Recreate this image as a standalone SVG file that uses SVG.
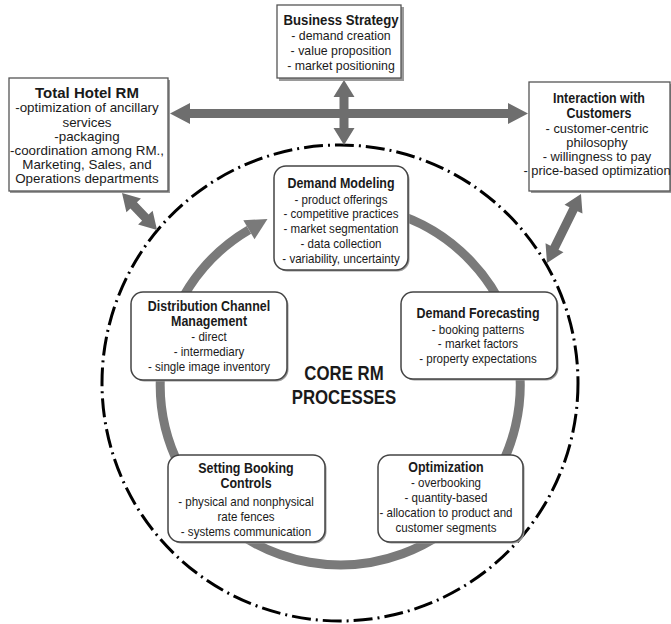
<svg xmlns="http://www.w3.org/2000/svg" width="671" height="624" viewBox="0 0 671 624">
<style>
  text { font-family: "Liberation Sans", Arial, sans-serif; fill: #1a1a1a; text-anchor: middle; transform-box: fill-box; transform-origin: center; }
  .t { font-weight: bold; font-size: 15px; transform: scaleX(0.83); }
  .i { font-size: 13px; transform: scaleX(0.89); }
  .ib { font-size: 13px; transform: scaleX(0.95); }
  .ic { font-size: 13px; transform: scaleX(0.99); }
  .ih { font-size: 13px; transform: scaleX(1.03); }
  .th { font-weight: bold; font-size: 15px; }
  .core { font-weight: bold; font-size: 21px; transform: scaleX(0.8); }
  .sq { fill: #fff; stroke: #555; stroke-width: 1.3; }
  .rr { fill: #fff; stroke: #444; stroke-width: 1.5; }
  .sh { fill: #9a9a9a; }
  .arr { fill: #6e6e6e; }
  .ring { fill: none; stroke: #7a7a7a; stroke-width: 9; }
  .outer { fill: none; stroke: #000; stroke-width: 3; stroke-dasharray: 19 5 2 5; }
</style>

<g id="rings">
  <circle class="outer" cx="340" cy="383" r="238"/>
  <path class="ring" d="M 308.7 207.7 A 180 180 0 1 1 248.9 229.8"/>
  <polygon points="267.5,219 243.3,220.3 254.5,239.3" fill="#7a7a7a"/>
</g>

<g id="connectors">
  <polygon class="arr" points="170,113.5 190,103 190,109 508,109 508,103 528,113.5 508,124 508,118 190,118 190,124"/>
  <polygon class="arr" points="344,80 354.5,97 348.5,97 348.5,128 354.5,128 344,145 333.5,128 339.5,128 339.5,97 333.5,97"/>
  <g transform="translate(122,193) rotate(46.6)">
    <polygon class="arr" points="0,0 17,-10 17,-4.5 34,-4.5 34,-10 51,0 34,10 34,4.5 17,4.5 17,10"/>
  </g>
  <g transform="translate(547,263) rotate(-63.8)">
    <polygon class="arr" points="0,0 17,-10 17,-4.5 60,-4.5 60,-10 77,0 60,10 60,4.5 17,4.5 17,10"/>
  </g>
</g>

<g id="business-strategy">
  <rect class="sh" x="279" y="7" width="125" height="74"/>
  <rect class="sq" x="277" y="5" width="124" height="73"/>
  <text class="t" x="341" y="25" style="transform:scaleX(0.88)">Business Strategy</text>
  <text class="ib" x="341" y="40">- demand creation</text>
  <text class="ib" x="341" y="55">- value proposition</text>
  <text class="ib" x="341" y="70">- market positioning</text>
</g>

<g id="total-hotel-rm">
  <rect class="sh" x="10" y="80" width="160" height="113"/>
  <rect class="sq" x="9" y="78" width="159" height="113"/>
  <text class="th" x="87" y="98">Total Hotel RM</text>
  <text class="ih" x="87" y="112.5">-optimization of ancillary</text>
  <text class="ih" x="87" y="127">services</text>
  <text class="ih" x="87" y="141.5">-packaging</text>
  <text class="ih" x="87" y="155.5">-coordination among RM.,</text>
  <text class="ih" x="87" y="169.5">Marketing, Sales, and</text>
  <text class="ih" x="87" y="183.5">Operations departments</text>
</g>

<g id="interaction-with-customers">
  <rect class="sh" x="531" y="84" width="142" height="109"/>
  <rect class="sq" x="529" y="82" width="141" height="109"/>
  <text class="t" x="599" y="103">Interaction with</text>
  <text class="t" x="599" y="118">Customers</text>
  <text class="ic" x="597" y="133">- customer-centric</text>
  <text class="ic" x="597" y="147">philosophy</text>
  <text class="ic" x="597" y="161">- willingness to pay</text>
  <text class="ic" x="597" y="175">- price-based optimization</text>
</g>

<g id="demand-modeling">
  <rect class="sh" x="275.5" y="167.5" width="134" height="104" rx="12"/>
  <rect class="rr" x="274" y="166" width="134" height="104" rx="12"/>
  <text class="t" x="341" y="188.5">Demand Modeling</text>
  <text class="i" x="341" y="204">- product offerings</text>
  <text class="i" x="341" y="218.5">- competitive practices</text>
  <text class="i" x="341" y="233.5">- market segmentation</text>
  <text class="i" x="341" y="248.5">- data collection</text>
  <text class="i" x="341" y="263.5">- variability, uncertainty</text>
</g>

<g id="distribution-channel-management">
  <rect class="sh" x="132.5" y="293.5" width="156" height="88" rx="12"/>
  <rect class="rr" x="131" y="292" width="156" height="88" rx="12"/>
  <text class="t" x="209" y="311.5">Distribution Channel</text>
  <text class="t" x="209" y="326.5">Management</text>
  <text class="i" x="209" y="341.5">- direct</text>
  <text class="i" x="209" y="356.5">- intermediary</text>
  <text class="i" x="209" y="371.5">- single image inventory</text>
</g>

<g id="demand-forecasting">
  <rect class="sh" x="402.5" y="293.5" width="156" height="87" rx="12"/>
  <rect class="rr" x="401" y="292" width="156" height="87" rx="12"/>
  <text class="t" x="478" y="318">Demand Forecasting</text>
  <text class="i" x="478" y="334">- booking patterns</text>
  <text class="i" x="478" y="348.5">- market factors</text>
  <text class="i" x="478" y="363.5">- property expectations</text>
</g>

<g id="setting-booking-controls">
  <rect class="sh" x="169.5" y="456.5" width="157" height="87" rx="12"/>
  <rect class="rr" x="168" y="455" width="157" height="87" rx="12"/>
  <text class="t" x="246" y="473">Setting Booking</text>
  <text class="t" x="246" y="488">Controls</text>
  <text class="i" x="246" y="506.5">- physical and nonphysical</text>
  <text class="i" x="246" y="521.5">rate fences</text>
  <text class="i" x="246" y="536.5">- systems communication</text>
</g>

<g id="optimization">
  <rect class="sh" x="379.5" y="456.5" width="145" height="87" rx="12"/>
  <rect class="rr" x="378" y="455" width="145" height="87" rx="12"/>
  <text class="t" x="446" y="472">Optimization</text>
  <text class="i" x="446" y="487.5">- overbooking</text>
  <text class="i" x="446" y="502.5">- quantity-based</text>
  <text class="i" x="446" y="517.5">- allocation to product and</text>
  <text class="i" x="446" y="532.5">customer segments</text>
</g>

<g id="core-label">
  <text class="core" x="344" y="380">CORE RM</text>
  <text class="core" x="344" y="404">PROCESSES</text>
</g>
</svg>
